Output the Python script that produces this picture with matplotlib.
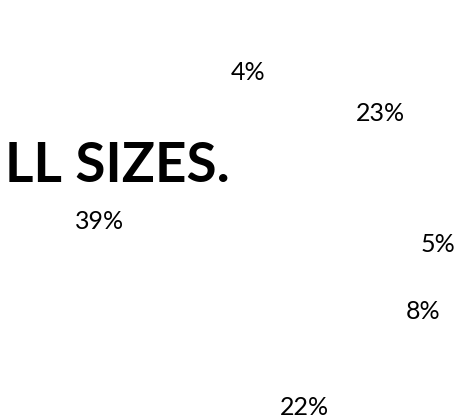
import matplotlib.pyplot as plt

# pie shares (slices are white in the source, only the labels show)
shares = [4, 23, 5, 8, 22, 39]
slice_colors = ['white'] * len(shares)
title = "LL SIZES."

fig = plt.figure(figsize=(4.65, 4.2), dpi=100)
fig.patch.set_facecolor('white')
ax = fig.add_axes([0, 0, 1, 1])

radius = 130
ax.pie(shares, colors=slice_colors, startangle=104, counterclock=False,
       center=(268, 179), radius=radius, pctdistance=170 / radius,
       autopct=lambda p: f'{p:.0f}%',
       wedgeprops=dict(linewidth=0),
       textprops=dict(fontsize=18, family='Lato', color='black'))

ax.set_xlim(0, 465)
ax.set_ylim(0, 420)
ax.set_aspect('equal')
ax.axis('off')

# title runs off the left edge in the source
fig.text(5 / 465, 1 - 182 / 420, title, fontsize=39.5, fontweight='bold',
         family='Lato', color='black', ha='left', va='baseline')

fig.savefig('out.png', dpi=100)
